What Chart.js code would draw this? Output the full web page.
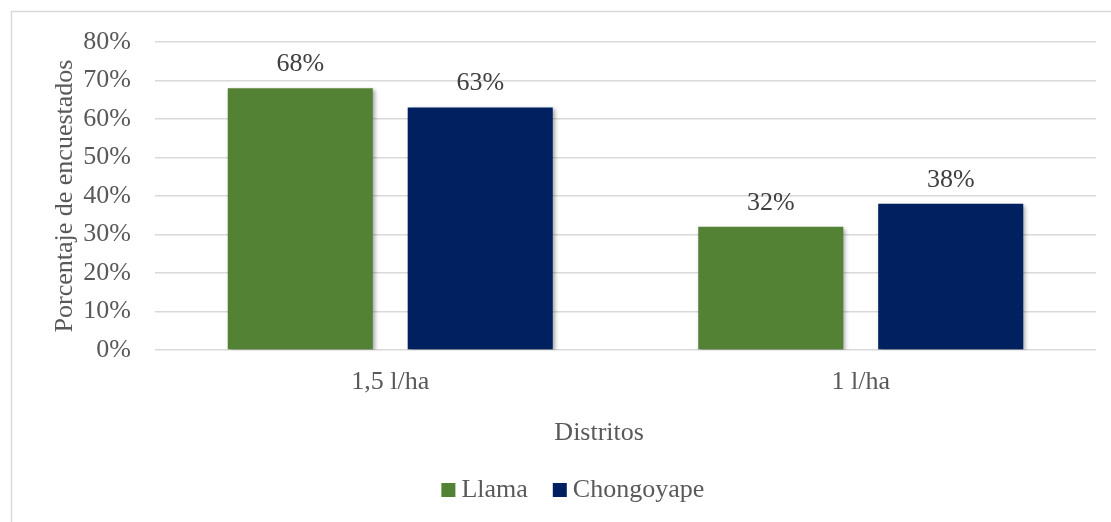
<!DOCTYPE html>
<html lang="es">
<head>
<meta charset="utf-8">
<title>Dosis por distrito</title>
<script src="https://cdn.jsdelivr.net/npm/chart.js@4.4.1/dist/chart.umd.min.js"></script>
<style>
  html, body { margin: 0; padding: 0; background: #ffffff; }
  #wrap { position: relative; width: 1111px; height: 522px; }
</style>
</head>
<body>
<div id="wrap"><canvas id="chart" width="1111" height="522"></canvas></div>
<script>
// Categories and series (percent of respondents)
const categories = ['1,5 l/ha', '1 l/ha'];
const llama = [68, 32];
const chongoyape = [63, 38];
const seriesNames = ['Llama', 'Chongoyape'];
const seriesColors = ['#548235', '#002060'];
const yMax = 80;
const yStep = 10;
const yTitle = 'Porcentaje de encuestados';
const xTitle = 'Distritos';

const FONT = "'Liberation Serif', 'Times New Roman', serif";
const TEXT = '#595959';

// Light frame around the whole chart
const framePlugin = {
  id: 'frame',
  beforeDraw(chart) {
    const ctx = chart.ctx;
    ctx.save();
    ctx.strokeStyle = '#d9d9d9';
    ctx.lineWidth = 1.5;
    ctx.strokeRect(11.5, 11.5, chart.width + 20, chart.height + 20);
    ctx.restore();
  }
};

// Soft drop shadow under the bars
const shadowPlugin = {
  id: 'barShadow',
  beforeDatasetsDraw(chart) {
    const ctx = chart.ctx;
    ctx.save();
    ctx.shadowColor = 'rgba(0,0,0,0.35)';
    ctx.shadowBlur = 4;
    ctx.shadowOffsetX = 2;
    ctx.shadowOffsetY = 2;
  },
  afterDatasetsDraw(chart) {
    chart.ctx.restore();
  }
};

// Value labels above each bar, the category axis title and a compact legend
const labelPlugin = {
  id: 'valueLabels',
  afterDatasetsDraw(chart) {
    const ctx = chart.ctx;
    ctx.save();
    ctx.font = '26px ' + FONT;
    ctx.fillStyle = '#404040';
    ctx.textAlign = 'center';
    ctx.textBaseline = 'alphabetic';
    chart.data.datasets.forEach((ds, di) => {
      const meta = chart.getDatasetMeta(di);
      meta.data.forEach((bar, i) => {
        ctx.fillText(ds.data[i] + '%', bar.x, bar.y - 17);
      });
    });
    const area = chart.chartArea;
    ctx.fillStyle = TEXT;
    ctx.fillText(xTitle, area.left + (area.right - area.left) * 0.472, area.bottom + 90);

    // legend: 14px swatch, 6px gap, label, 25px between entries
    const box = 14, gap = 6, between = 25;
    const widths = chart.data.datasets.map(ds => ctx.measureText(ds.label).width);
    const total = widths.reduce((s, w) => s + box + gap + w, 0) + between * (widths.length - 1);
    const center = area.left + (area.right - area.left) * 0.444;
    let x = center - total / 2;
    const base = area.bottom + 147;
    ctx.textAlign = 'left';
    chart.data.datasets.forEach((ds, di) => {
      ctx.fillStyle = ds.backgroundColor;
      ctx.fillRect(x, base - box, box, box);
      x += box + gap;
      ctx.fillStyle = TEXT;
      ctx.fillText(ds.label, x, base);
      x += widths[di] + between;
    });
    ctx.restore();
  }
};

new Chart(document.getElementById('chart'), {
  type: 'bar',
  data: {
    labels: categories,
    datasets: [
      { label: seriesNames[0], data: llama, backgroundColor: seriesColors[0] },
      { label: seriesNames[1], data: chongoyape, backgroundColor: seriesColors[1] }
    ]
  },
  options: {
    responsive: false,
    animation: false,
    devicePixelRatio: 1,
    layout: { padding: { left: 61, right: 15, top: 42, bottom: 70 } },
    datasets: {
      bar: { categoryPercentage: 0.765, barPercentage: 0.806 }
    },
    scales: {
      x: {
        grid: { display: false, drawTicks: false },
        border: { display: false },
        ticks: { color: TEXT, font: { family: FONT, size: 26 }, padding: 17, maxRotation: 0 },
        afterFit(scale) { scale.height = 102; }
      },
      y: {
        min: 0,
        max: yMax,
        grid: { color: '#d9d9d9', lineWidth: 1.5, drawTicks: false },
        border: { display: false },
        ticks: {
          stepSize: yStep,
          color: TEXT,
          font: { family: FONT, size: 26 },
          padding: 24,
          callback: v => v + '%'
        },
        title: {
          display: true,
          text: yTitle,
          color: TEXT,
          font: { family: FONT, size: 26 },
          padding: { top: -11.6, bottom: 0 }
        },
        afterFit(scale) { scale.width = 94; }
      }
    },
    plugins: {
      legend: { display: false },
      tooltip: { enabled: false }
    }
  },
  plugins: [framePlugin, shadowPlugin, labelPlugin]
});
</script>
</body>
</html>
